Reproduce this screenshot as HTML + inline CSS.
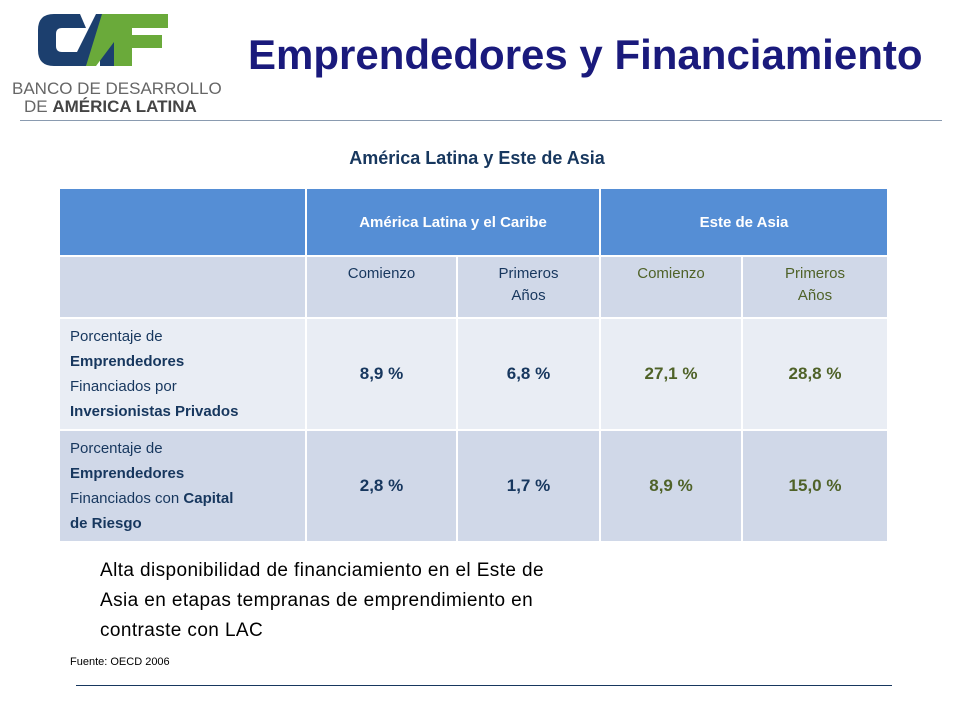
<!DOCTYPE html>
<html><head><meta charset="utf-8"><style>
body{margin:0;width:960px;height:720px;background:#fff;position:relative;overflow:hidden;font-family:"Liberation Sans",sans-serif}
.a{position:absolute}
.c{position:absolute;display:flex;align-items:center;justify-content:center;text-align:center;box-sizing:border-box}
.h{background:#558ed5;color:#fff;font-weight:bold;font-size:15px}
.s{background:#d0d8e8;font-size:15px;line-height:22px;align-items:flex-start;padding-top:6px}
.r1{background:#e9edf4}.r2{background:#d0d8e8}
.v{font-weight:bold;font-size:17px}
.lac{color:#17375e}.asia{color:#4f6228}
.lab{justify-content:flex-start;text-align:left;padding-left:10px;font-size:15px;line-height:25px;color:#17375e}
</style></head><body>
<div class="a" style="left:10px;top:8px;width:220px;height:105px">
<svg width="220" height="105">
<path d="M70 6 L44 6 Q28 6 28 22 L28 42 Q28 58 44 58 L70 58 L76 44 L52 44 Q46 44 46 38 L46 26 Q46 20 52 20 L76 20 Z" fill="#1c3f6e"/>
<path d="M86 6 L104 6 L104 58 L90 58 L90 44 L76 58 L60 58 Z" fill="#1c3f6e"/>
<path d="M92 6 L158 6 L158 20 L122 20 L122 27 L152 27 L152 40 L122 40 L122 58 L104 58 L104 34 L86 58 L76 58 Z" fill="#6aaa3a"/>
<text x="2" y="86" font-size="17" fill="#666" font-family="Liberation Sans">BANCO DE DESARROLLO</text>
<text x="14" y="104" font-size="17" fill="#666" font-family="Liberation Sans">DE <tspan font-weight="bold" fill="#444">AMÉRICA LATINA</tspan></text>
</svg></div>
<div class="a" style="left:248px;top:31px;font-size:42px;font-weight:bold;color:#1a1a7c;white-space:nowrap">Emprendedores y Financiamiento</div>
<div class="a" style="left:20px;top:120px;width:922px;height:1px;background:#8a9bb0"></div>
<div class="a" style="left:0;width:954px;text-align:center;top:148px;font-size:18px;font-weight:bold;color:#17375e">América Latina y Este de Asia</div>
<div>
<div class="c h" style="left:60px;top:189px;width:245px;height:66px"></div>
<div class="c h" style="left:307px;top:189px;width:292px;height:66px">América Latina y el Caribe</div>
<div class="c h" style="left:601px;top:189px;width:286px;height:66px">Este de Asia</div>
<div class="c s" style="left:60px;top:257px;width:245px;height:60px"></div>
<div class="c s lac" style="left:307px;top:257px;width:149px;height:60px">Comienzo</div>
<div class="c s lac" style="left:458px;top:257px;width:141px;height:60px">Primeros<br>Años</div>
<div class="c s asia" style="left:601px;top:257px;width:140px;height:60px">Comienzo</div>
<div class="c s asia" style="left:743px;top:257px;width:144px;height:60px">Primeros<br>Años</div>
<div class="c r1 lab" style="left:60px;top:319px;width:245px;height:110px"><div>Porcentaje de<br><b>Emprendedores</b><br>Financiados por<br><b>Inversionistas Privados</b></div></div>
<div class="c r1 v lac" style="left:307px;top:319px;width:149px;height:110px">8,9 %</div>
<div class="c r1 v lac" style="left:458px;top:319px;width:141px;height:110px">6,8 %</div>
<div class="c r1 v asia" style="left:601px;top:319px;width:140px;height:110px">27,1 %</div>
<div class="c r1 v asia" style="left:743px;top:319px;width:144px;height:110px">28,8 %</div>
<div class="c r2 lab" style="left:60px;top:431px;width:245px;height:110px"><div>Porcentaje de<br><b>Emprendedores</b><br>Financiados con <b>Capital</b><br><b>de Riesgo</b></div></div>
<div class="c r2 v lac" style="left:307px;top:431px;width:149px;height:110px">2,8 %</div>
<div class="c r2 v lac" style="left:458px;top:431px;width:141px;height:110px">1,7 %</div>
<div class="c r2 v asia" style="left:601px;top:431px;width:140px;height:110px">8,9 %</div>
<div class="c r2 v asia" style="left:743px;top:431px;width:144px;height:110px">15,0 %</div>
</div>
<div class="a" style="left:100px;top:556px;font-size:19px;letter-spacing:0.4px;line-height:30px;color:#000;white-space:nowrap">Alta disponibilidad de financiamiento en el Este de<br>Asia en etapas tempranas de emprendimiento en<br>contraste con LAC</div>
<div class="a" style="left:70px;top:656px;font-size:11px;color:#000">Fuente: OECD 2006</div>
<div class="a" style="left:76px;top:685px;width:816px;height:1px;background:#17375e"></div>
</body></html>
